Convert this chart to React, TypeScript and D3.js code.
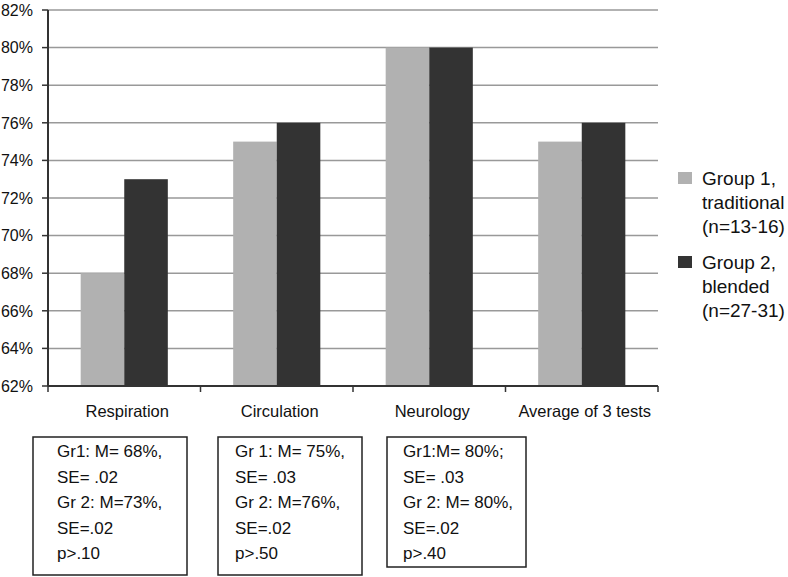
import * as d3 from "d3"

const categories = ["Respiration", "Circulation", "Neurology", "Average of 3 tests"]
const groups = ["Group 1", "Group 2"]
const group1 = [68, 75, 80, 75]
const group2 = [73, 76, 80, 76]
const yTicks = [62, 64, 66, 68, 70, 72, 74, 76, 78, 80, 82]
const groupColors = ["#b1b1b1", "#333333"]
const legendLines = [
  ["Group 1,", "traditional", "(n=13-16)"],
  ["Group 2,", "blended", "(n=27-31)"],
]
const statBoxes = [
  ["Gr1: M= 68%,", "SE= .02", "Gr 2: M=73%,", "SE=.02", "p>.10"],
  ["Gr 1: M= 75%,", "SE= .03", "Gr 2: M=76%,", "SE=.02", "p>.50"],
  ["Gr1:M= 80%;", "SE= .03", "Gr 2: M= 80%,", "SE=.02", "p>.40"],
]
// box frames: left, right, bottom (top shared)
const boxFrames = [
  { x0: 33, x1: 187, y1: 575, pad: 24 },
  { x0: 218, x1: 362, y1: 575, pad: 17 },
  { x0: 387, x1: 526, y1: 567, pad: 16 },
]

const W = 788
const H = 577
const left = 48
const right = 658
const top = 10
const bottom = 386
const font = "'Liberation Sans', Arial, Helvetica, sans-serif"

export default function App() {
  const x0 = d3.scaleBand().domain(categories).range([left, right]).padding(0)
  const x1 = d3
    .scaleBand()
    .domain(groups)
    .range([0, x0.bandwidth()])
    .paddingInner(0)
    .paddingOuter(0.75)
  const y = d3.scaleLinear().domain([62, 82]).range([bottom, top])

  const series = [group1, group2]
  const ticksX = [...categories.map((c) => x0(c) as number), right]

  return (
    <svg
      width={W}
      height={H}
      style={{ position: "absolute", left: 0, top: 0, background: "#fff" }}
      fontFamily={font}
    >
      {/* gridlines */}
      {yTicks.slice(1).map((t) => (
        <line key={t} x1={left} x2={right} y1={y(t)} y2={y(t)} stroke="#999" strokeWidth={1.5} />
      ))}

      {/* bars */}
      {categories.map((c, i) =>
        groups.map((g, j) => {
          const v = series[j][i]
          return (
            <rect
              key={c + g}
              x={(x0(c) as number) + (x1(g) as number)}
              y={y(v)}
              width={x1.bandwidth()}
              height={bottom - y(v)}
              fill={groupColors[j]}
            />
          )
        })
      )}

      {/* y axis */}
      <line x1={left} x2={left} y1={top} y2={bottom} stroke="#333" strokeWidth={2} />
      {yTicks.map((t) => (
        <g key={t}>
          <line x1={left - 6} x2={left} y1={y(t)} y2={y(t)} stroke="#333" strokeWidth={1.5} />
          <text x={33} y={y(t)} dy="0.36em" textAnchor="end" fontSize={16} fill="#111">
            {t}%
          </text>
        </g>
      ))}

      {/* x axis */}
      <line x1={left} x2={right} y1={bottom} y2={bottom} stroke="#333" strokeWidth={2} />
      {ticksX.map((tx, i) => (
        <line key={i} x1={tx} x2={tx} y1={bottom} y2={bottom + 6} stroke="#333" strokeWidth={1.5} />
      ))}
      {categories.map((c) => (
        <text
          key={c}
          x={(x0(c) as number) + x0.bandwidth() / 2 + 3}
          y={417}
          textAnchor="middle"
          fontSize={16.5}
          fill="#111"
        >
          {c}
        </text>
      ))}

      {/* legend */}
      {legendLines.map((lines, j) => {
        const ly = 185 + j * 84
        return (
          <g key={j}>
            <rect x={678} y={ly - 13} width={14} height={12} fill={groupColors[j]} />
            {lines.map((l, k) => (
              <text key={k} x={702} y={ly + k * 24} fontSize={19} fill="#111">
                {l}
              </text>
            ))}
          </g>
        )
      })}

      {/* stat boxes */}
      {statBoxes.map((lines, b) => {
        const f = boxFrames[b]
        return (
          <g key={b}>
            <rect
              x={f.x0}
              y={437}
              width={f.x1 - f.x0}
              height={f.y1 - 437}
              fill="none"
              stroke="#222"
              strokeWidth={1.5}
            />
            {lines.map((l, k) => (
              <text key={k} x={f.x0 + f.pad} y={457 + k * 25.5} fontSize={17} fill="#111">
                {l}
              </text>
            ))}
          </g>
        )
      })}
    </svg>
  )
}
